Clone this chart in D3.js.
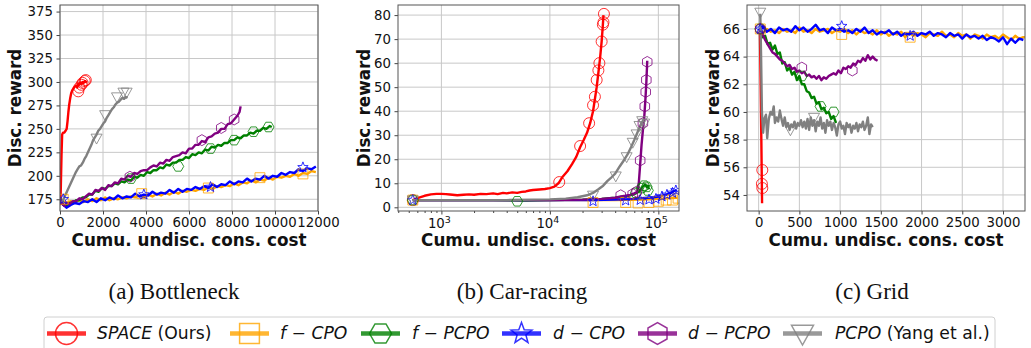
<!DOCTYPE html>
<html>
<head>
<meta charset="utf-8">
<script src="https://cdn.jsdelivr.net/npm/d3@7"></script>
<style>
  body { margin: 0; background: #fff; }
  svg { display: block; }
  text { font-family: "DejaVu Sans", sans-serif; fill: #111; }
</style>
</head>
<body>
<svg width="1031" height="348"></svg>
<script>

// ---- data (cost, reward) ----

// (a) Bottleneck
let bnSpace = [[0,176],[20,170],[40,190],[70,222],[100,244],[140,246],[200,246],[260,248],[310,250],[350,258],[390,268],[430,276],[470,282],[520,288],[570,291],[620,293],[680,295],[740,296],[800,294],[850,298],[900,297],[950,299],[1000,298],[1050,300],[1100,299],[1150,301],[1200,300],[1250,301]]
let bnSpaceMk = [[850,290],[900,294],[1000,297],[1050,299],[1150,301],[1200,302]]
let bnFcpo = [[100,174],[300,171],[500,173],[700,172],[900,174],[1100,172],[1300,175],[1500,173],[1700,176],[1900,174],[2100,177],[2300,174],[2500,176],[2700,175],[2900,177],[3100,176],[3300,178],[3500,177],[3700,179],[3900,177],[4100,180],[4300,178],[4500,181],[4700,179],[4900,182],[5100,180],[5300,183],[5500,181],[5700,184],[5900,183],[6100,185],[6300,184],[6500,186],[6700,185],[6900,188],[7100,186],[7300,189],[7500,188],[7700,190],[7900,189],[8100,192],[8300,190],[8500,193],[8700,192],[8900,195],[9100,193],[9300,196],[9500,195],[9700,198],[9900,196],[10100,199],[10300,198],[10500,200],[10700,199],[10900,202],[11100,200],[11300,203],[11500,202],[11700,205],[11900,204]]
let bnFcpoMk = [[150,175],[3800,181],[6900,187],[9300,198],[11300,202]]
let bnFpcpo = [[0,176],[150,169],[300,168],[450,171],[600,171],[750,174],[900,174],[1050,177],[1200,177],[1350,180],[1500,180],[1650,184],[1800,183],[1950,187],[2100,186],[2250,189],[2400,189],[2550,192],[2700,191],[2850,194],[3000,193],[3150,196],[3300,195],[3450,199],[3600,198],[3750,201],[3900,200],[4050,204],[4200,203],[4350,206],[4500,206],[4650,209],[4800,208],[4950,212],[5100,211],[5250,214],[5400,214],[5550,217],[5700,217],[5850,220],[6000,219],[6150,223],[6300,222],[6450,225],[6600,224],[6750,228],[6900,227],[7050,231],[7200,230],[7350,233],[7500,232],[7650,235],[7800,235],[7950,238],[8100,238],[8250,241],[8400,240],[8550,243],[8700,243],[8850,246],[9000,245],[9150,248],[9300,248],[9450,251],[9600,250],[9750,253],[9850,252]]
let bnFpcpoMk = [[3300,197],[5500,210],[7000,229],[8100,238],[9000,247],[9700,252]]
let bnDcpo = [[100,170],[300,166],[500,169],[700,171],[900,170],[1100,173],[1300,172],[1500,175],[1700,172],[1900,176],[2100,174],[2300,177],[2500,175],[2700,179],[2900,176],[3100,178],[3300,177],[3500,181],[3700,178],[3900,180],[4100,179],[4300,183],[4500,180],[4700,182],[4900,181],[5100,185],[5300,182],[5500,186],[5700,183],[5900,186],[6100,185],[6300,188],[6500,186],[6700,189],[6900,187],[7100,191],[7300,188],[7500,191],[7700,190],[7900,194],[8100,191],[8300,194],[8500,193],[8700,197],[8900,194],[9100,197],[9300,196],[9500,200],[9700,197],[9900,200],[10100,199],[10300,203],[10500,201],[10700,204],[10900,203],[11100,207],[11300,205],[11500,208],[11700,207],[11900,210]]
let bnDcpoMk = [[150,175],[3900,180],[7000,188],[11300,209]]
let bnDpcpo = [[0,176],[100,170],[200,168],[300,171],[450,170],[600,173],[750,173],[900,176],[1050,175],[1200,178],[1350,181],[1500,180],[1650,185],[1800,184],[1950,187],[2100,185],[2250,190],[2400,189],[2550,193],[2700,192],[2850,197],[3000,196],[3150,200],[3300,199],[3450,203],[3600,202],[3750,205],[3900,206],[4050,206],[4200,209],[4350,211],[4500,210],[4650,214],[4800,213],[4950,217],[5100,216],[5250,220],[5400,221],[5550,222],[5700,225],[5850,224],[6000,229],[6150,229],[6300,233],[6450,233],[6600,237],[6750,236],[6900,241],[7050,242],[7200,245],[7350,246],[7500,250],[7650,250],[7800,255],[7950,256],[8100,260],[8250,264],[8350,268],[8400,274]]
let bnDpcpoMk = [[3250,199],[6600,238],[7500,251],[8100,260]]
let bnPcpo = [[100,172],[180,176],[260,180],[340,184],[420,188],[500,192],[580,196],[660,200],[740,204],[820,207],[900,210],[980,211],[1060,214],[1140,218],[1220,221],[1300,225],[1380,229],[1460,233],[1540,238],[1620,241],[1700,244],[1780,248],[1860,250],[1940,253],[2020,256],[2100,258],[2180,262],[2260,265],[2340,268],[2420,271],[2500,273],[2580,276],[2660,278],[2740,279],[2820,281],[2900,283],[2980,282],[3060,284],[3140,283]]
let bnPcpoMk = [[1700,240],[2100,265],[2650,284],[2950,289],[3100,289]]

// (b) Car-racing
let crSpace = [[545,3],[600,3.8],[700,4.8],[800,5.4],[900,5.6],[1000,5.6],[1100,5.5],[1200,5.3],[1400,5.0],[1600,5.2],[1800,5.4],[2000,5.2],[2300,5.6],[2600,5.5],[3000,5.8],[3300,5.5],[3700,6.0],[4000,5.8],[4500,6.2],[5000,6.0],[5500,6.4],[6000,6.6],[6500,7.0],[7000,7.2],[8000,7.4],[9000,7.6],[10000,8.0],[11000,8.6],[12000,10.0],[13000,12.5],[14500,15],[16000,18],[17500,21],[19000,25],[20500,28],[22000,31],[23500,35],[25000,40],[26000,45],[27000,50],[28000,56],[29000,62],[30000,69],[30700,75],[31200,80]]
let crSpaceMk = [[545,3],[12200,10.5],[19000,25.5],[23000,35],[25000,42.5],[26000,46],[27000,53],[28000,57],[28600,60],[30000,69],[30800,76],[31200,77],[31500,80.5]]
let crFcpo = [[545,3],[1000,3],[3000,3],[10000,3],[25000,3],[40000,3],[55000,3.1],[70000,3.2],[90000,3.4],[110000,3.6],[130000,3.8],[150000,4]]
let crFcpoMk = [[545,3],[25000,2],[50000,2],[65000,1.8],[82000,2],[100000,2.5],[118000,3],[135000,3],[152000,3.8]]
let crFpcpo = [[545,3],[1000,3],[3000,3],[6000,2.8],[10000,3],[20000,3.2],[30000,3.5],[40000,4],[50000,4.5],[60000,5.5],[66000,6.5],[70000,8],[73000,9],[76000,9.5],[78000,8.5],[80000,9],[82000,7.5]]
let crFpcpoMk = [[545,3],[5000,2.5],[62000,6],[70000,8],[74000,9],[78000,8.5],[80000,7]]
let crDcpo = [[545,3],[1000,3],[3000,3],[10000,3],[25000,3],[40000,3.2],[55000,3.4],[70000,3.8],[80000,4],[90000,4.2],[100000,4.5],[110000,5],[120000,5.5],[130000,6],[140000,6.8],[148000,7.2]]
let crDcpoMk = [[545,3],[25000,2.5],[50000,2.8],[68000,3],[82000,3.2],[95000,3.5],[108000,4.5],[120000,5.2],[135000,6],[145000,7]]
let crDpcpo = [[545,3],[1000,3],[2000,3],[5000,3],[10000,3],[20000,3.2],[30000,3.5],[40000,4],[45000,4.5],[50000,4.8],[55000,5.2],[60000,5.8],[64000,6.5],[66000,10],[68000,18],[70000,26],[72000,32],[74000,37],[76000,45],[77500,52],[79000,61]]
let crDpcpoMk = [[45000,5],[58000,5.5],[63000,6.5],[68000,19.5],[72000,35],[75000,42],[76500,48],[77500,53],[79000,60.5]]
let crPcpo = [[545,3],[1000,3],[2000,3],[4000,3],[7000,3.2],[10000,3.3],[14000,3.6],[18000,4.2],[22000,5.0],[25000,6],[28000,7.5],[31000,9],[34000,11],[37000,12.5],[40000,14],[44000,17],[48000,19.5],[52000,22],[56000,25],[60000,28],[64000,31],[68000,34],[72000,36],[74000,37]]
let crPcpoMk = [[545,3],[25000,5],[40500,13],[51000,21],[58000,27],[63000,30.5],[67000,34],[71000,36],[74000,35]]

// (c) Grid
let grSpace = [[15,66],[25,62],[33,58],[42,53.4]]
let grSpaceMk = [[45,55.8],[40,54.8],[45,54.5]]
let grFcpo = [[0,65.8],[50,65.7],[100,66.0],[150,65.8],[200,65.9],[250,65.7],[300,66.0],[350,65.8],[400,65.9],[450,65.7],[500,66.1],[550,65.8],[600,65.9],[650,65.7],[700,66.0],[750,65.8],[800,65.9],[850,66.0],[900,65.7],[950,65.9],[1000,65.8],[1050,66.0],[1100,65.7],[1150,65.9],[1200,65.6],[1250,65.9],[1300,65.7],[1350,65.8],[1400,65.6],[1450,65.9],[1500,65.6],[1550,65.8],[1600,65.5],[1650,65.7],[1700,65.6],[1750,65.8],[1800,65.4],[1850,65.7],[1900,65.5],[1950,65.7],[2000,65.6],[2050,65.4],[2100,65.7],[2150,65.6],[2200,65.5],[2250,65.8],[2300,65.5],[2350,65.6],[2400,65.4],[2450,65.7],[2500,65.5],[2550,65.6],[2600,65.3],[2650,65.6],[2700,65.5],[2750,65.3],[2800,65.6],[2850,65.4],[2900,65.5],[2950,65.3],[3000,65.6],[3050,65.4],[3100,65.2],[3150,65.5],[3200,65.3],[3250,65.4],[3280,65.4]]
let grFcpoMk = [[20,66],[1020,65.6],[1860,65.4]]
let grFpcpo = [[20,66],[50,65.4],[80,65.5],[110,64.9],[140,65.0],[170,64.5],[200,64.8],[230,64.2],[260,64.3],[290,63.5],[320,63.6],[350,63.0],[380,63.2],[410,62.7],[440,62.9],[470,62.3],[500,62.6],[530,62.0],[560,62.0],[590,61.5],[620,61.4],[650,61.0],[680,61.1],[710,60.6],[740,60.7],[770,60.2],[800,60.3],[830,59.9],[860,60.0],[890,59.5],[920,59.7],[950,59.2]]
let grFpcpoMk = [[20,66],[530,62.6],[760,60.4],[920,60]]
let grDcpo = [[0,65.9],[50,66.2],[100,65.8],[150,66.0],[200,65.7],[250,66.1],[300,65.9],[350,66.0],[400,65.8],[450,66.2],[500,65.9],[550,66.1],[600,65.8],[650,66.0],[700,66.3],[750,65.9],[800,66.0],[850,65.7],[900,66.1],[950,65.9],[1000,66.0],[1050,65.8],[1100,65.9],[1150,65.7],[1200,66.0],[1250,65.8],[1300,66.1],[1350,65.7],[1400,65.9],[1450,65.6],[1500,65.8],[1550,65.7],[1600,65.9],[1650,65.6],[1700,65.8],[1750,65.5],[1800,65.7],[1850,65.6],[1900,65.8],[1950,65.5],[2000,65.7],[2050,65.6],[2100,65.8],[2150,65.5],[2200,65.7],[2250,65.6],[2300,65.4],[2350,65.7],[2400,65.5],[2450,65.6],[2500,65.3],[2550,65.6],[2600,65.4],[2650,65.5],[2700,65.3],[2750,65.5],[2800,65.2],[2850,65.4],[2900,65.3],[2950,65.1],[3000,65.4],[3050,64.9],[3100,65.3],[3150,65.0],[3200,65.3],[3250,65.2]]
let grDcpoMk = [[20,66],[1020,66.2],[1860,65.5]]
let grDpcpo = [[20,66],[50,65.6],[80,65.2],[110,64.9],[140,64.6],[170,64.3],[200,64.2],[230,64.0],[260,63.8],[290,63.7],[320,63.5],[350,63.3],[380,63.4],[410,63.1],[440,63.2],[470,62.9],[500,63.0],[530,62.8],[560,62.9],[590,62.6],[620,62.7],[650,62.5],[680,62.6],[710,62.4],[740,62.6],[770,62.3],[800,62.5],[830,62.4],[860,62.6],[890,62.7],[920,62.8],[950,62.7],[980,63.0],[1010,62.8],[1040,63.2],[1070,63.1],[1100,63.3],[1130,63.2],[1160,63.5],[1190,63.4],[1220,63.7],[1250,63.6],[1280,63.9],[1310,63.7],[1340,64.1],[1370,63.8],[1400,64.0],[1430,63.8],[1460,63.7]]
let grDpcpoMk = [[20,66],[530,63.2],[1150,63]]
let grPcpo = [[20,67.1],[30,64],[40,60],[55,58.5],[70,59.5],[90,59.8],[105,58.1],[125,59.5],[145,60],[165,59.8],[185,60.4],[200,59.2],[220,59.6],[240,59.3],[260,60.1],[280,59.5],[300,59.0],[320,59.6],[340,58.9],[360,59.2],[380,58.7],[400,59.1],[420,58.9],[440,59.3],[460,58.8],[480,59.2],[500,59.0],[520,59.4],[540,58.9],[560,59.3],[580,58.8],[600,59.5],[620,58.7],[640,59.6],[660,59.0],[680,59.4],[700,58.6],[720,59.3],[740,59.0],[760,59.6],[780,58.8],[800,59.2],[820,58.5],[840,59.4],[860,59.0],[880,59.3],[900,58.7],[920,59.2],[940,58.9],[960,58.3],[980,59.1],[1000,59.3],[1020,58.8],[1040,59.0],[1060,58.4],[1080,59.2],[1100,58.9],[1120,59.1],[1140,58.5],[1160,59.0],[1180,58.8],[1200,59.2],[1220,58.6],[1240,59.1],[1260,58.9],[1280,59.3],[1300,58.7],[1320,59.0],[1340,59.6],[1360,58.4],[1380,59.1],[1400,58.9]]
let grPcpoMk = [[20,67.2],[390,58.7],[680,59.6]]

// tick values
let bnYTicks = [175, 200, 225, 250, 275, 300, 325, 350, 375]
let bnXTicks = [0, 2000, 4000, 6000, 8000, 10000, 12000]
let crYTicks = [0, 10, 20, 30, 40, 50, 60, 70, 80]
let crXTicks = [1e3, 1e4, 1e5]
let grYTicks = [54, 56, 58, 60, 62, 64, 66]
let grXTicks = [0, 500, 1000, 1500, 2000, 2500, 3000]

let captions = ['(a) Bottleneck', '(b) Car-racing', '(c) Grid']

// series styling (legend order)
let methods = [
  { key: 'space', color: '#ff0000', shape: 'circle' },
  { key: 'fcpo', color: '#ffa500', shape: 'square' },
  { key: 'fpcpo', color: '#008000', shape: 'hexH' },
  { key: 'dcpo', color: '#0000ff', shape: 'star' },
  { key: 'dpcpo', color: '#800080', shape: 'hexh' },
  { key: 'pcpo', color: '#808080', shape: 'tri' }
]

// -------------------------------------------------------

let svg = d3.select('svg')

function markerPath(shape, r) {
  let p = d3.path()
  if (shape === 'circle') {
    p.arc(0, 0, r, 0, 2 * Math.PI)
  } else if (shape === 'square') {
    p.rect(-r * 0.9, -r * 0.9, r * 1.8, r * 1.8)
  } else if (shape === 'hexH' || shape === 'hexh') {
    let off = shape === 'hexH' ? 0 : Math.PI / 6
    for (let i = 0; i < 6; i++) {
      let a = off + i * Math.PI / 3
      if (i === 0) p.moveTo(r * Math.cos(a), r * Math.sin(a))
      else p.lineTo(r * Math.cos(a), r * Math.sin(a))
    }
    p.closePath()
  } else if (shape === 'star') {
    for (let i = 0; i < 10; i++) {
      let a = -Math.PI / 2 + i * Math.PI / 5
      let rr = i % 2 === 0 ? r : r * 0.42
      if (i === 0) p.moveTo(rr * Math.cos(a), rr * Math.sin(a))
      else p.lineTo(rr * Math.cos(a), rr * Math.sin(a))
    }
    p.closePath()
  } else if (shape === 'tri') {
    p.moveTo(-r, -r * 0.75)
    p.lineTo(r, -r * 0.75)
    p.lineTo(0, r * 1.05)
    p.closePath()
  }
  return p.toString()
}

function drawPanel(cfg, idx) {
  let left = cfg.left, right = cfg.right, top = 5, bottom = 211
  let x = (cfg.log ? d3.scaleLog() : d3.scaleLinear()).domain(cfg.xDomain).range([left, right])
  let y = d3.scaleLinear().domain(cfg.yDomain).range([bottom, top])

  let g = svg.append('g')

  // grid
  g.append('g').selectAll('line').data(cfg.xTicks).enter().append('line')
    .attr('x1', d => x(d)).attr('x2', d => x(d)).attr('y1', top).attr('y2', bottom)
    .attr('stroke', '#c8c8c8').attr('stroke-width', 1)
  g.append('g').selectAll('line').data(cfg.yTicks).enter().append('line')
    .attr('x1', left).attr('x2', right).attr('y1', d => y(d)).attr('y2', d => y(d))
    .attr('stroke', '#c8c8c8').attr('stroke-width', 1)

  // clip
  let clipId = 'clip' + idx
  svg.append('clipPath').attr('id', clipId).append('rect')
    .attr('x', left).attr('y', top).attr('width', right - left).attr('height', bottom - top)

  let plot = g.append('g').attr('clip-path', 'url(#' + clipId + ')')
  let line = d3.line().x(d => x(d[0])).y(d => y(d[1]))

  cfg.series.forEach((s, i) => {
    let m = methods[i]
    plot.append('path').datum(s.data)
      .attr('d', line)
      .attr('fill', 'none')
      .attr('stroke', m.color)
      .attr('stroke-width', 2.4)
      .attr('stroke-linejoin', 'round')
  })
  cfg.series.forEach((s, i) => {
    let m = methods[i]
    plot.append('g').selectAll('path').data(s.marks).enter().append('path')
      .attr('d', markerPath(m.shape, 5.5))
      .attr('transform', d => 'translate(' + x(d[0]) + ',' + y(d[1]) + ')')
      .attr('fill', 'none')
      .attr('stroke', m.color)
      .attr('stroke-width', 1)
      .attr('opacity', 0.8)
  })

  // axes
  let xAxis = d3.axisBottom(x).tickValues(cfg.xTicks).tickSize(3.5).tickPadding(3.5)
  if (!cfg.log) xAxis.tickFormat(d3.format('d'))
  else xAxis.tickFormat('')
  let ax = g.append('g').attr('transform', 'translate(0,' + bottom + ')').call(xAxis)
  ax.select('.domain').remove()
  ax.selectAll('line').attr('stroke', '#444')
  ax.selectAll('text').attr('font-size', 13.3).attr('font-family', 'DejaVu Sans').attr('fill', '#111')

  if (cfg.log) {
    let minor = []
    for (let e = 2; e <= 5; e++) {
      for (let k = 1; k < 10; k++) {
        let v = k * Math.pow(10, e)
        if (k > 1 && v >= cfg.xDomain[0] && v <= cfg.xDomain[1]) minor.push(v)
      }
    }
    let mx = g.append('g').attr('transform', 'translate(0,' + bottom + ')')
      .call(d3.axisBottom(x).tickValues(minor).tickSize(2).tickFormat(''))
    mx.select('.domain').remove()
    mx.selectAll('line').attr('stroke', '#444')

    let lab = g.append('g').selectAll('text').data(cfg.xTicks).enter().append('text')
      .attr('x', d => x(d) - 2).attr('y', bottom + 17)
      .attr('text-anchor', 'middle').attr('font-size', 13.3)
    lab.append('tspan').text('10')
    lab.append('tspan').attr('dy', -5).attr('font-size', 9.5).text(d => Math.round(Math.log10(d)))
  }

  let yAxis = d3.axisLeft(y).tickValues(cfg.yTicks).tickSize(3.5).tickPadding(3.5)
  let ay = g.append('g').attr('transform', 'translate(' + left + ',0)').call(yAxis)
  ay.select('.domain').remove()
  ay.selectAll('line').attr('stroke', '#444')
  ay.selectAll('text').attr('font-size', 13.3).attr('font-family', 'DejaVu Sans').attr('fill', '#111')

  // frame
  g.append('rect').attr('x', left).attr('y', top).attr('width', right - left).attr('height', bottom - top)
    .attr('fill', 'none').attr('stroke', '#555').attr('stroke-width', 1)

  // axis titles
  g.append('text').attr('x', (left + right) / 2).attr('y', 246)
    .attr('text-anchor', 'middle').attr('font-weight', 'bold').attr('font-size', 16.8)
    .text('Cumu. undisc. cons. cost')
  g.append('text').attr('transform', 'translate(' + cfg.yLabelX + ',' + (top + bottom) / 2 + ') rotate(-90)')
    .attr('text-anchor', 'middle').attr('dy', '0.35em').attr('font-weight', 'bold').attr('font-size', 16.8)
    .text('Disc. reward')

  // caption
  svg.append('text').attr('x', cfg.capX).attr('y', 299)
    .attr('text-anchor', 'middle').attr('font-size', 23)
    .style('font-family', '"Liberation Serif", serif')
    .text(captions[idx])
}

let panels = [
  {
    left: 60, right: 318, xDomain: [0, 12000], yDomain: [162.5, 382], log: false,
    xTicks: bnXTicks, yTicks: bnYTicks, yLabelX: 15, capX: 174,
    series: [
      { data: bnSpace, marks: bnSpaceMk }, { data: bnFcpo, marks: bnFcpoMk },
      { data: bnFpcpo, marks: bnFpcpoMk }, { data: bnDcpo, marks: bnDcpoMk },
      { data: bnDpcpo, marks: bnDpcpoMk }, { data: bnPcpo, marks: bnPcpoMk }
    ]
  },
  {
    left: 398, right: 679, xDomain: [398, 155000], yDomain: [-1.54, 84.2], log: true,
    xTicks: crXTicks, yTicks: crYTicks, yLabelX: 364, capX: 522,
    series: [
      { data: crSpace, marks: crSpaceMk }, { data: crFcpo, marks: crFcpoMk },
      { data: crFpcpo, marks: crFpcpoMk }, { data: crDcpo, marks: crDcpoMk },
      { data: crDpcpo, marks: crDpcpoMk }, { data: crPcpo, marks: crPcpoMk }
    ]
  },
  {
    left: 747, right: 1025, xDomain: [-143, 3270], yDomain: [52.84, 67.73], log: false,
    xTicks: grXTicks, yTicks: grYTicks, yLabelX: 713, capX: 872,
    series: [
      { data: grSpace, marks: grSpaceMk }, { data: grFcpo, marks: grFcpoMk },
      { data: grFpcpo, marks: grFpcpoMk }, { data: grDcpo, marks: grDcpoMk },
      { data: grDpcpo, marks: grDpcpoMk }, { data: grPcpo, marks: grPcpoMk }
    ]
  }
]

panels.forEach((p, i) => drawPanel(p, i))

// legend
let legendItems = [
  { lx: 47, tx: 97, parts: [['SPACE', true], [' (Ours)', false]] },
  { lx: 230, tx: 280, parts: [['f', true], [' \u2212 ', false], ['CPO', true]] },
  { lx: 361, tx: 412, parts: [['f', true], [' \u2212 ', false], ['PCPO', true]] },
  { lx: 502, tx: 553, parts: [['d', true], [' \u2212 ', false], ['CPO', true]] },
  { lx: 638, tx: 688, parts: [['d', true], [' \u2212 ', false], ['PCPO', true]] },
  { lx: 783, tx: 835, parts: [['PCPO', true], [' (Yang et al.)', false]] }
]

let leg = svg.append('g')
leg.append('rect').attr('x', 44).attr('y', 317).attr('width', 951).attr('height', 45).attr('rx', 3)
  .attr('fill', '#fff').attr('stroke', '#d0d0d0').attr('stroke-width', 1)

legendItems.forEach((it, i) => {
  let m = methods[i]
  let ly = 333.5
  leg.append('line').attr('x1', it.lx).attr('x2', it.lx + 39).attr('y1', ly).attr('y2', ly)
    .attr('stroke', m.color).attr('stroke-width', 4.3).attr('opacity', 0.8)
  leg.append('path').attr('d', markerPath(m.shape, 11))
    .attr('transform', 'translate(' + (it.lx + 19.5) + ',' + ly + ')')
    .attr('fill', 'none').attr('stroke', m.color).attr('stroke-width', 1.5).attr('opacity', 0.8)
  let t = leg.append('text').attr('x', it.tx).attr('y', 339).attr('font-size', 17.2)
  it.parts.forEach(p => {
    t.append('tspan').attr('font-style', p[1] ? 'italic' : 'normal').text(p[0])
  })
})

</script>
</body>
</html>
